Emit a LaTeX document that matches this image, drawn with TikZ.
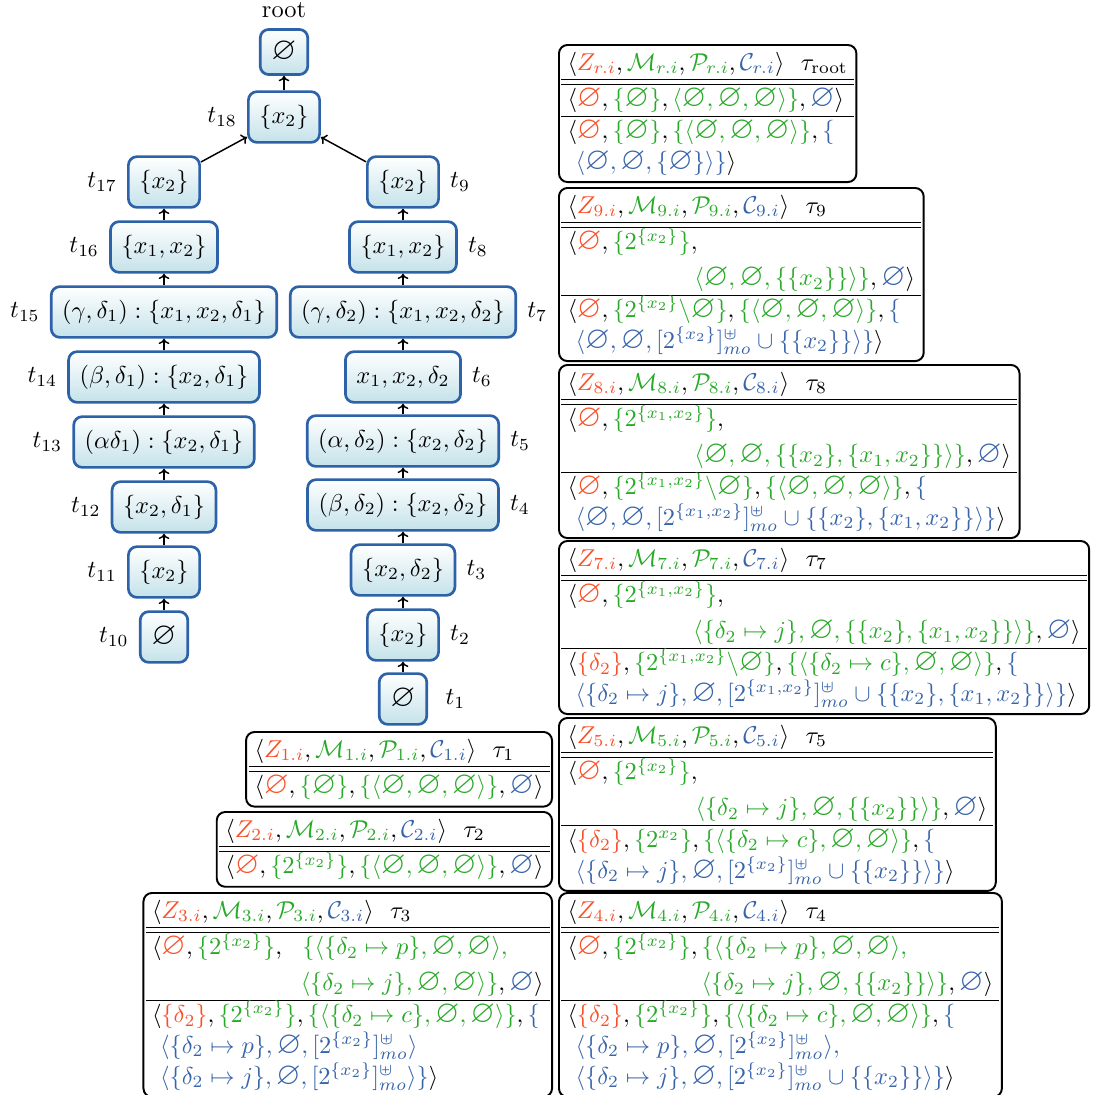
\documentclass[tikz,border=0pt]{standalone}
\usepackage{amsmath,amssymb,graphicx}
\usetikzlibrary{arrows.meta}
\definecolor{zred}{RGB}{250,80,40}
\definecolor{mgreen}{RGB}{40,170,40}
\definecolor{cblue}{RGB}{55,100,170}
\definecolor{nblue}{RGB}{45,98,168}
\definecolor{nfill}{RGB}{196,226,234}
\setlength{\tabcolsep}{2.5pt}
\renewcommand{\arraystretch}{1.05}
\newcommand{\cR}[1]{{\color{zred}#1}}
\newcommand{\cG}[1]{{\color{mgreen}#1}}
\newcommand{\cB}[1]{{\color{cblue}#1}}
\newcommand{\es}{\mathord{\scalebox{1.3}{$\varnothing$}}}
\newcommand{\hdr}[2]{$\langle \cR{Z_{#1}}, \cG{\mathcal{M}_{#1}}, \cG{\mathcal{P}_{#1}}, \cB{\mathcal{C}_{#1}}\rangle$\ \ $\tau_{#2}$}
\newcommand{\mo}[1]{[2^{#1}]^{\uplus}_{mo}}
\newcommand{\smin}{\backslash}
\begin{document}
\begin{tikzpicture}[x=0.41pt,y=-0.41pt,
 every label/.style={inner sep=0pt},
 tnode/.style={draw=nblue, line width=1.1pt, rounded corners=3.5pt, top color=white, bottom color=nfill, minimum height=20.8pt, minimum width=19.5pt, inner xsep=4.5pt},
 arr/.style={-{To[length=2.2pt,width=4.4pt]}, line width=0.6pt},
 tbox/.style={draw, line width=0.8pt, rounded corners=3.5pt, inner xsep=1pt, inner ysep=1.5pt, fill=white}]
\useasboundingbox (0,0) rectangle (1094,1095);
% tree
\node[tnode, minimum height=18.5pt, label={[name=lroot,label distance=4pt]above:root}] (root) at (284,52) {$\es$};
\node[tnode, label={[name=l18,label distance=4pt]left:$t_{18}$}] (t18) at (284,117) {$\{x_2\}$};
\node[tnode, label={[name=l17,label distance=4pt]left:$t_{17}$}] (t17) at (164,182) {$\{x_2\}$};
\node[tnode, label={[name=l16,label distance=4pt]left:$t_{16}$}] (t16) at (164,247) {$\{x_1,x_2\}$};
\node[tnode, label={[name=l15,label distance=4pt]left:$t_{15}$}] (t15) at (164,312) {$(\gamma,\delta_1):\{x_1,x_2,\delta_1\}$};
\node[tnode, label={[name=l14,label distance=4pt]left:$t_{14}$}] (t14) at (164,377) {$(\beta,\delta_1):\{x_2,\delta_1\}$};
\node[tnode, label={[name=l13,label distance=4pt]left:$t_{13}$}] (t13) at (164,442) {$(\alpha\delta_1):\{x_2,\delta_1\}$};
\node[tnode, label={[name=l12,label distance=4pt]left:$t_{12}$}] (t12) at (164,507) {$\{x_2,\delta_1\}$};
\node[tnode, label={[name=l11,label distance=4pt]left:$t_{11}$}] (t11) at (164,572) {$\{x_2\}$};
\node[tnode, label={[name=l10,label distance=4pt]left:$t_{10}$}] (t10) at (164,637) {$\es$};
\node[tnode, label={[name=l9,label distance=4pt]right:$t_{9}$}] (t9) at (403,182) {$\{x_2\}$};
\node[tnode, label={[name=l8,label distance=4pt]right:$t_{8}$}] (t8) at (403,247) {$\{x_1,x_2\}$};
\node[tnode, label={[name=l7,label distance=4pt]right:$t_{7}$}] (t7) at (403,312) {$(\gamma,\delta_2):\{x_1,x_2,\delta_2\}$};
\node[tnode, label={[name=l6,label distance=4pt]right:$t_{6}$}] (t6) at (403,377) {$x_1,x_2,\delta_2$};
\node[tnode, label={[name=l5,label distance=4pt]right:$t_{5}$}] (t5) at (403,441) {$(\alpha,\delta_2):\{x_2,\delta_2\}$};
\node[tnode, label={[name=l4,label distance=4pt]right:$t_{4}$}] (t4) at (403,505) {$(\beta,\delta_2):\{x_2,\delta_2\}$};
\node[tnode, label={[name=l3,label distance=4pt]right:$t_{3}$}] (t3) at (403,570) {$\{x_2,\delta_2\}$};
\node[tnode, label={[name=l2,label distance=4pt]right:$t_{2}$}] (t2) at (403,635) {$\{x_2\}$};
\node[tnode, label={[name=l1,label distance=7pt]right:$t_{1}$}] (t1) at (403,699) {$\es$};
\draw[arr] (t18) -- (root);
\draw[arr] (t17) -- (t18);
\draw[arr] (t9) -- (t18);
\draw[arr] (t16) -- (t17);
\draw[arr] (t15) -- (t16);
\draw[arr] (t14) -- (t15);
\draw[arr] (t13) -- (t14);
\draw[arr] (t12) -- (t13);
\draw[arr] (t11) -- (t12);
\draw[arr] (t10) -- (t11);
\draw[arr] (t8) -- (t9);
\draw[arr] (t7) -- (t8);
\draw[arr] (t6) -- (t7);
\draw[arr] (t5) -- (t6);
\draw[arr] (t4) -- (t5);
\draw[arr] (t3) -- (t4);
\draw[arr] (t2) -- (t3);
\draw[arr] (t1) -- (t2);
% tables
\node[tbox, anchor=north west] (broot) at (558,44) {\begin{tabular}{l}
\hdr{r.i}{\mathrm{root}}\\ \hline\hline
$\langle \cR{\es}, \cG{\{\es\}}, \cG{\langle\es,\es,\es\rangle\}}, \cB{\es}\rangle$\\ \hline
$\langle \cR{\es}, \cG{\{\es\}}, \cG{\{\langle\es,\es,\es\rangle\}}, \cB{\{}$\\
$\ \cB{\langle\es,\es,\{\es\}\rangle\}}\rangle$
\end{tabular}};
\node[tbox, anchor=north west] (b9) at (558,187) {\begin{tabular}{l}
\hdr{9.i}{9}\\ \hline\hline
$\langle\cR{\es}, \cG{\{2^{\{x_2\}}\}},$\\[2pt]
\hspace*{52pt}$\cG{\langle\es,\es,\{\{x_2\}\}\rangle\}}, \cB{\es}\rangle$\\ \hline
$\langle\cR{\es}, \cG{\{2^{\{x_2\}}\smin\es\}}, \cG{\{\langle\es,\es,\es\rangle\}}, \cB{\{}$\\
$\ \cB{\langle\es,\es,\mo{\{x_2\}}\cup\{\{x_2\}\}\rangle\}}\rangle$
\end{tabular}};
\node[tbox, anchor=north west] (b8) at (558,364) {\begin{tabular}{l}
\hdr{8.i}{8}\\ \hline\hline
$\langle\cR{\es}, \cG{\{2^{\{x_1,x_2\}}\}},$\\[2pt]
\hspace*{52pt}$\cG{\langle\es,\es,\{\{x_2\},\{x_1,x_2\}\}\rangle\}}, \cB{\es}\rangle$\\ \hline
$\langle\cR{\es}, \cG{\{2^{\{x_1,x_2\}}\smin\es\}}, \cG{\{\langle\es,\es,\es\rangle\}}, \cB{\{}$\\
$\ \cB{\langle\es,\es,\mo{\{x_1,x_2\}}\cup\{\{x_2\},\{x_1,x_2\}\}\rangle\}}\rangle$
\end{tabular}};
\node[tbox, anchor=north west] (b7) at (558,540) {\begin{tabular}{l}
\hdr{7.i}{7}\\ \hline\hline
$\langle\cR{\es}, \cG{\{2^{\{x_1,x_2\}}\}},$\\[2pt]
\hspace*{51.5pt}$\cG{\langle\{\delta_2\mapsto j\},\es,\{\{x_2\},\{x_1,x_2\}\}\rangle\}}, \cB{\es}\rangle$\\ \hline
$\langle\cR{\{\delta_2\}}, \cG{\{2^{\{x_1,x_2\}}\smin\es\}}, \cG{\{\langle\{\delta_2\mapsto c\},\es,\es\rangle\}}, \cB{\{}$\\
$\ \cB{\langle\{\delta_2\mapsto j\},\es,\mo{\{x_1,x_2\}}\cup\{\{x_2\},\{x_1,x_2\}\}\rangle\}}\rangle$
\end{tabular}};
\node[tbox, anchor=north west] (b5) at (558,717) {\begin{tabular}{l}
\hdr{5.i}{5}\\ \hline\hline
$\langle\cR{\es}, \cG{\{2^{\{x_2\}}\}},$\\[2pt]
\hspace*{52.5pt}$\cG{\langle\{\delta_2\mapsto j\},\es,\{\{x_2\}\}\rangle\}}, \cB{\es}\rangle$\\ \hline
$\langle\cR{\{\delta_2\}}, \cG{\{2^{x_2}\}}, \cG{\{\langle\{\delta_2\mapsto c\},\es,\es\rangle\}}, \cB{\{}$\\
$\ \cB{\langle\{\delta_2\mapsto j\},\es,\mo{\{x_2\}}\cup\{\{x_2\}\}\rangle\}}\rangle$
\end{tabular}};
\node[tbox, anchor=north west] (b4) at (558,892) {\begin{tabular}{l}
\hdr{4.i}{4}\\ \hline\hline
$\langle\cR{\es}, \cG{\{2^{\{x_2\}}\}}, \cG{\{\langle\{\delta_2\mapsto p\},\es,\es\rangle,}$\\[2pt]
\hspace*{55pt}$\cG{\langle\{\delta_2\mapsto j\},\es,\{\{x_2\}\}\rangle\}}, \cB{\es}\rangle$\\ \hline
$\langle\cR{\{\delta_2\}}, \cG{\{2^{\{x_2\}}\}}, \cG{\{\langle\{\delta_2\mapsto c\},\es,\es\rangle\}}, \cB{\{}$\\
$\ \cB{\langle\{\delta_2\mapsto p\},\es,\mo{\{x_2\}}\rangle,}$\\
$\ \cB{\langle\{\delta_2\mapsto j\},\es,\mo{\{x_2\}}\cup\{\{x_2\}\}\rangle\}}\rangle$
\end{tabular}};
\node[tbox, anchor=north east] (b1) at (553,731) {\begin{tabular}{l}
\hdr{1.i}{1}\\ \hline\hline
$\langle\cR{\es}, \cG{\{\es\}}, \cG{\{\langle\es,\es,\es\rangle\}}, \cB{\es}\rangle$
\end{tabular}};
\node[tbox, anchor=north east] (b2) at (553,811) {\begin{tabular}{l}
\hdr{2.i}{2}\\ \hline\hline
$\langle\cR{\es}, \cG{\{2^{\{x_2\}}\}}, \cG{\{\langle\es,\es,\es\rangle\}}, \cB{\es}\rangle$
\end{tabular}};
\node[tbox, anchor=north east] (b3) at (553,892) {\begin{tabular}{l}
\hdr{3.i}{3}\\ \hline\hline
$\langle\cR{\es}, \cG{\{2^{\{x_2\}}\}},\ \ \cG{\{\langle\{\delta_2\mapsto p\},\es,\es\rangle,}$\\[2pt]
\hspace*{61pt}$\cG{\langle\{\delta_2\mapsto j\},\es,\es\rangle\}}, \cB{\es}\rangle$\\ \hline
$\langle\cR{\{\delta_2\}}, \cG{\{2^{\{x_2\}}\}}, \cG{\{\langle\{\delta_2\mapsto c\},\es,\es\rangle\}}, \cB{\{}$\\
$\ \cB{\langle\{\delta_2\mapsto p\},\es,\mo{\{x_2\}}\rangle}$\\
$\ \cB{\langle\{\delta_2\mapsto j\},\es,\mo{\{x_2\}}\rangle\}}\rangle$
\end{tabular}};
\end{tikzpicture}
\end{document}
